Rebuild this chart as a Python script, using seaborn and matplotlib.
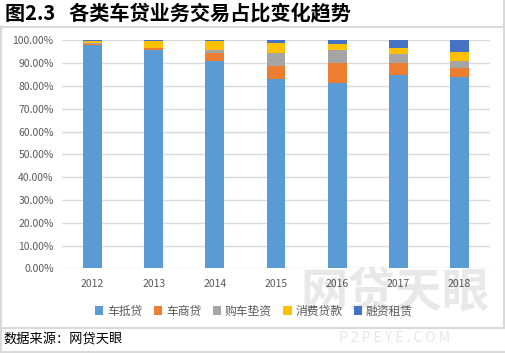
import matplotlib
matplotlib.use("Agg")
import matplotlib.pyplot as plt
from matplotlib.lines import Line2D
from matplotlib.patches import Patch
import seaborn as sns
import pandas as pd
import numpy as np

years = ["2012", "2013", "2014", "2015", "2016", "2017", "2018"]
series_names = ["车抵贷", "车商贷", "购车垫资", "消费贷款", "融资租赁"]
chedi = [98.0, 95.8, 91.0, 83.2, 81.1, 84.9, 84.0]
cheshang = [0.5, 0.9, 3.5, 5.6, 8.9, 5.1, 4.0]
gouche = [0.1, 0.1, 1.3, 5.7, 5.8, 4.1, 3.0]
xiaofei = [1.0, 2.8, 3.8, 4.3, 2.6, 2.6, 3.9]
rongzi = [0.4, 0.4, 0.4, 1.2, 1.6, 3.3, 5.1]
colors = ["#5B9BD5", "#ED7D31", "#A5A5A5", "#FFC000", "#4472C4"]
yticks = [0, 10, 20, 30, 40, 50, 60, 70, 80, 90, 100]

sns.set_theme(style="white")
plt.rcParams["font.family"] = ["Noto Sans CJK SC", "DejaVu Sans"]

fig = plt.figure(figsize=(5.05, 3.53), dpi=100)
ax = fig.add_axes([62/505, 1-268.3/353, (490-62)/505, (268.3-40.3)/353])

series = [chedi, cheshang, gouche, xiaofei, rongzi]
cum = np.cumsum(np.array(series), axis=0)
for i in range(len(series) - 1, -1, -1):
    df = pd.DataFrame({"year": years, "val": cum[i]})
    sns.barplot(data=df, x="year", y="val", color=colors[i], width=0.31,
                saturation=1, ax=ax, zorder=3, linewidth=0)

ax.set_ylim(0, 100)
ax.set_xlim(-0.5, 6.5)
ax.set_yticks(yticks)
ax.set_yticklabels([f"{v:.2f}%" for v in yticks], fontsize=7.5, color="#595959")
ax.tick_params(axis="x", labelsize=7.5, colors="#595959", length=0, pad=8)
ax.tick_params(axis="y", length=0, pad=6)
ax.set_xlabel("")
ax.set_ylabel("")
for t in ax.get_xticklabels():
    t.set_color("#595959")
for s in ax.spines.values():
    s.set_visible(False)
ax.grid(axis="y", color="#D9D9D9", linewidth=1, zorder=0)
ax.set_axisbelow(True)

handles = [Patch(facecolor=c, edgecolor="none") for c in colors]
fig.legend(handles, series_names, loc="center", bbox_to_anchor=(254/505, 1-311/353),
           ncol=5, frameon=False, fontsize=8.5, handlelength=0.7, handleheight=0.7,
           handletextpad=0.3, columnspacing=1.0, labelcolor="#595959")

# watermark
fig.text(395/505, 1-293/353, "网贷天眼", fontsize=34, fontweight="bold",
         color="#000000", alpha=0.09, ha="center", va="center", zorder=0)
fig.text(395/505, 1-338/353, "P 2 P E Y E . C O M", fontsize=10,
         color="#000000", alpha=0.1, ha="center", va="center", zorder=0)

# title and source
fig.text(5/505, 1-13/353, "图2.3   各类车贷业务交易占比变化趋势", fontsize=14.5,
         fontweight="bold", color="black", ha="left", va="center")
fig.text(3/505, 1-340/353, "数据来源：网贷天眼", fontsize=9.5,
         color="black", ha="left", va="center")

# frame lines
lc = "#D9D9D9"
def hline(y, x0=0, x1=505, w=1.5):
    fig.add_artist(Line2D([x0/505, x1/505], [1-y/353, 1-y/353], color=lc, lw=w))
def vline(x, y0, y1, w=1.5):
    fig.add_artist(Line2D([x/505, x/505], [1-y0/353, 1-y1/353], color=lc, lw=w))
hline(26.5)
hline(327.5)
hline(352.2)
vline(503.5, 26, 327)
vline(0.7, 26, 353)
vline(504.3, 0, 26)

fig.savefig("out.png", dpi=100)
